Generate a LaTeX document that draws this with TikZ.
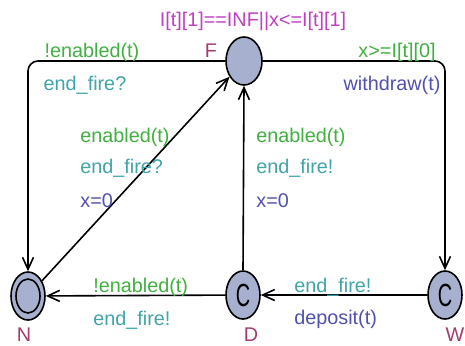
\documentclass[tikz,border=0pt]{standalone}
\usepackage{fontspec}
\usepackage{graphicx}
\setmainfont{Liberation Sans}
\usetikzlibrary{shapes.geometric,arrows.meta}
\definecolor{guardgreen}{RGB}{64,176,64}
\definecolor{synccyan}{RGB}{64,164,168}
\definecolor{updblue}{RGB}{80,80,176}
\definecolor{invmagenta}{RGB}{192,64,192}
\definecolor{locname}{RGB}{160,60,110}
\definecolor{locfill}{RGB}{168,176,208}
\newcommand{\commitmark}{\scalebox{0.62}[1]{C}}
\begin{document}
\begin{tikzpicture}[x=0.5pt,y=-0.5pt,
    font=\fontsize{9.9}{11}\selectfont,
    loc/.style={ellipse,draw,line width=0.8pt,fill=locfill,minimum width=17pt,minimum height=24pt,inner sep=0pt},
    committed/.style={loc,font=\fontsize{16}{16}\selectfont},
    edge/.style={line width=0.8pt,-{Straight Barb[length=6pt,width=5.5pt]}},
    guard/.style={text=guardgreen,inner sep=0pt},
    sync/.style={text=synccyan,inner sep=0pt},
    upd/.style={text=updblue,inner sep=0pt},
    lname/.style={text=locname,inner sep=0pt,anchor=base}]
    \useasboundingbox (0,0) rectangle (465,345);
    % locations
    \node[loc,minimum width=18pt] (F) at (244,61) {};
    \node[loc] (N) at (28,296) {};
    \draw[line width=0.8pt] (N.center) ellipse (6pt and 8.5pt);
    \node[committed] (D) at (243,295) {\commitmark};
    \node[committed] (W) at (445,295) {\commitmark};
    \node[lname] (Fname) at (211,57) {F};
    \node[lname] (Nname) at (24,341) {N};
    \node[lname] (Dname) at (251,341) {D};
    \node[lname] (Wname) at (455,341) {W};
    \node[text=invmagenta,inner sep=0pt,anchor=base] (Finv) at (253,26) {I[t][1]==INF||x<=I[t][1]};
    % transitions
    \draw[edge,rounded corners=5pt] (F.west) -| (N.north);
    \draw[edge,rounded corners=5pt] (F.east) -| (W.north);
    \draw[edge] (N) -- (F);
    \draw[edge] (D.north) -- (F.south);
    \draw[edge] (D) -- (N);
    \draw[edge] (W) -- (D);
    % labels F -> N
    \node[guard,anchor=base] (g1) at (92,57) {!enabled(t)};
    \node[sync,anchor=base] (s1) at (85,90) {end\_fire?};
    % labels F -> W
    \node[guard,anchor=base] (g2) at (397,57) {x>=I[t][0]};
    \node[upd,anchor=base] (u2) at (392,90) {withdraw(t)};
    % labels N -> F
    \node[guard,anchor=base west] (g3) at (80,142) {enabled(t)};
    \node[sync,anchor=base west] (s3) at (80,173) {end\_fire?};
    \node[upd,anchor=base west] (u3) at (80,207) {x=0};
    % labels D -> F
    \node[guard,anchor=base west] (g4) at (256,142) {enabled(t)};
    \node[sync,anchor=base west] (s4) at (256,173) {end\_fire!};
    \node[upd,anchor=base west] (u4) at (256,207) {x=0};
    % labels D -> N
    \node[guard,anchor=base west] (g5) at (93,292) {!enabled(t)};
    \node[sync,anchor=base west] (s5) at (93,325) {end\_fire!};
    % labels W -> D
    \node[sync,anchor=base west] (s6) at (294,292) {end\_fire!};
    \node[upd,anchor=base west] (u6) at (294,324) {deposit(t)};
\end{tikzpicture}
\end{document}
